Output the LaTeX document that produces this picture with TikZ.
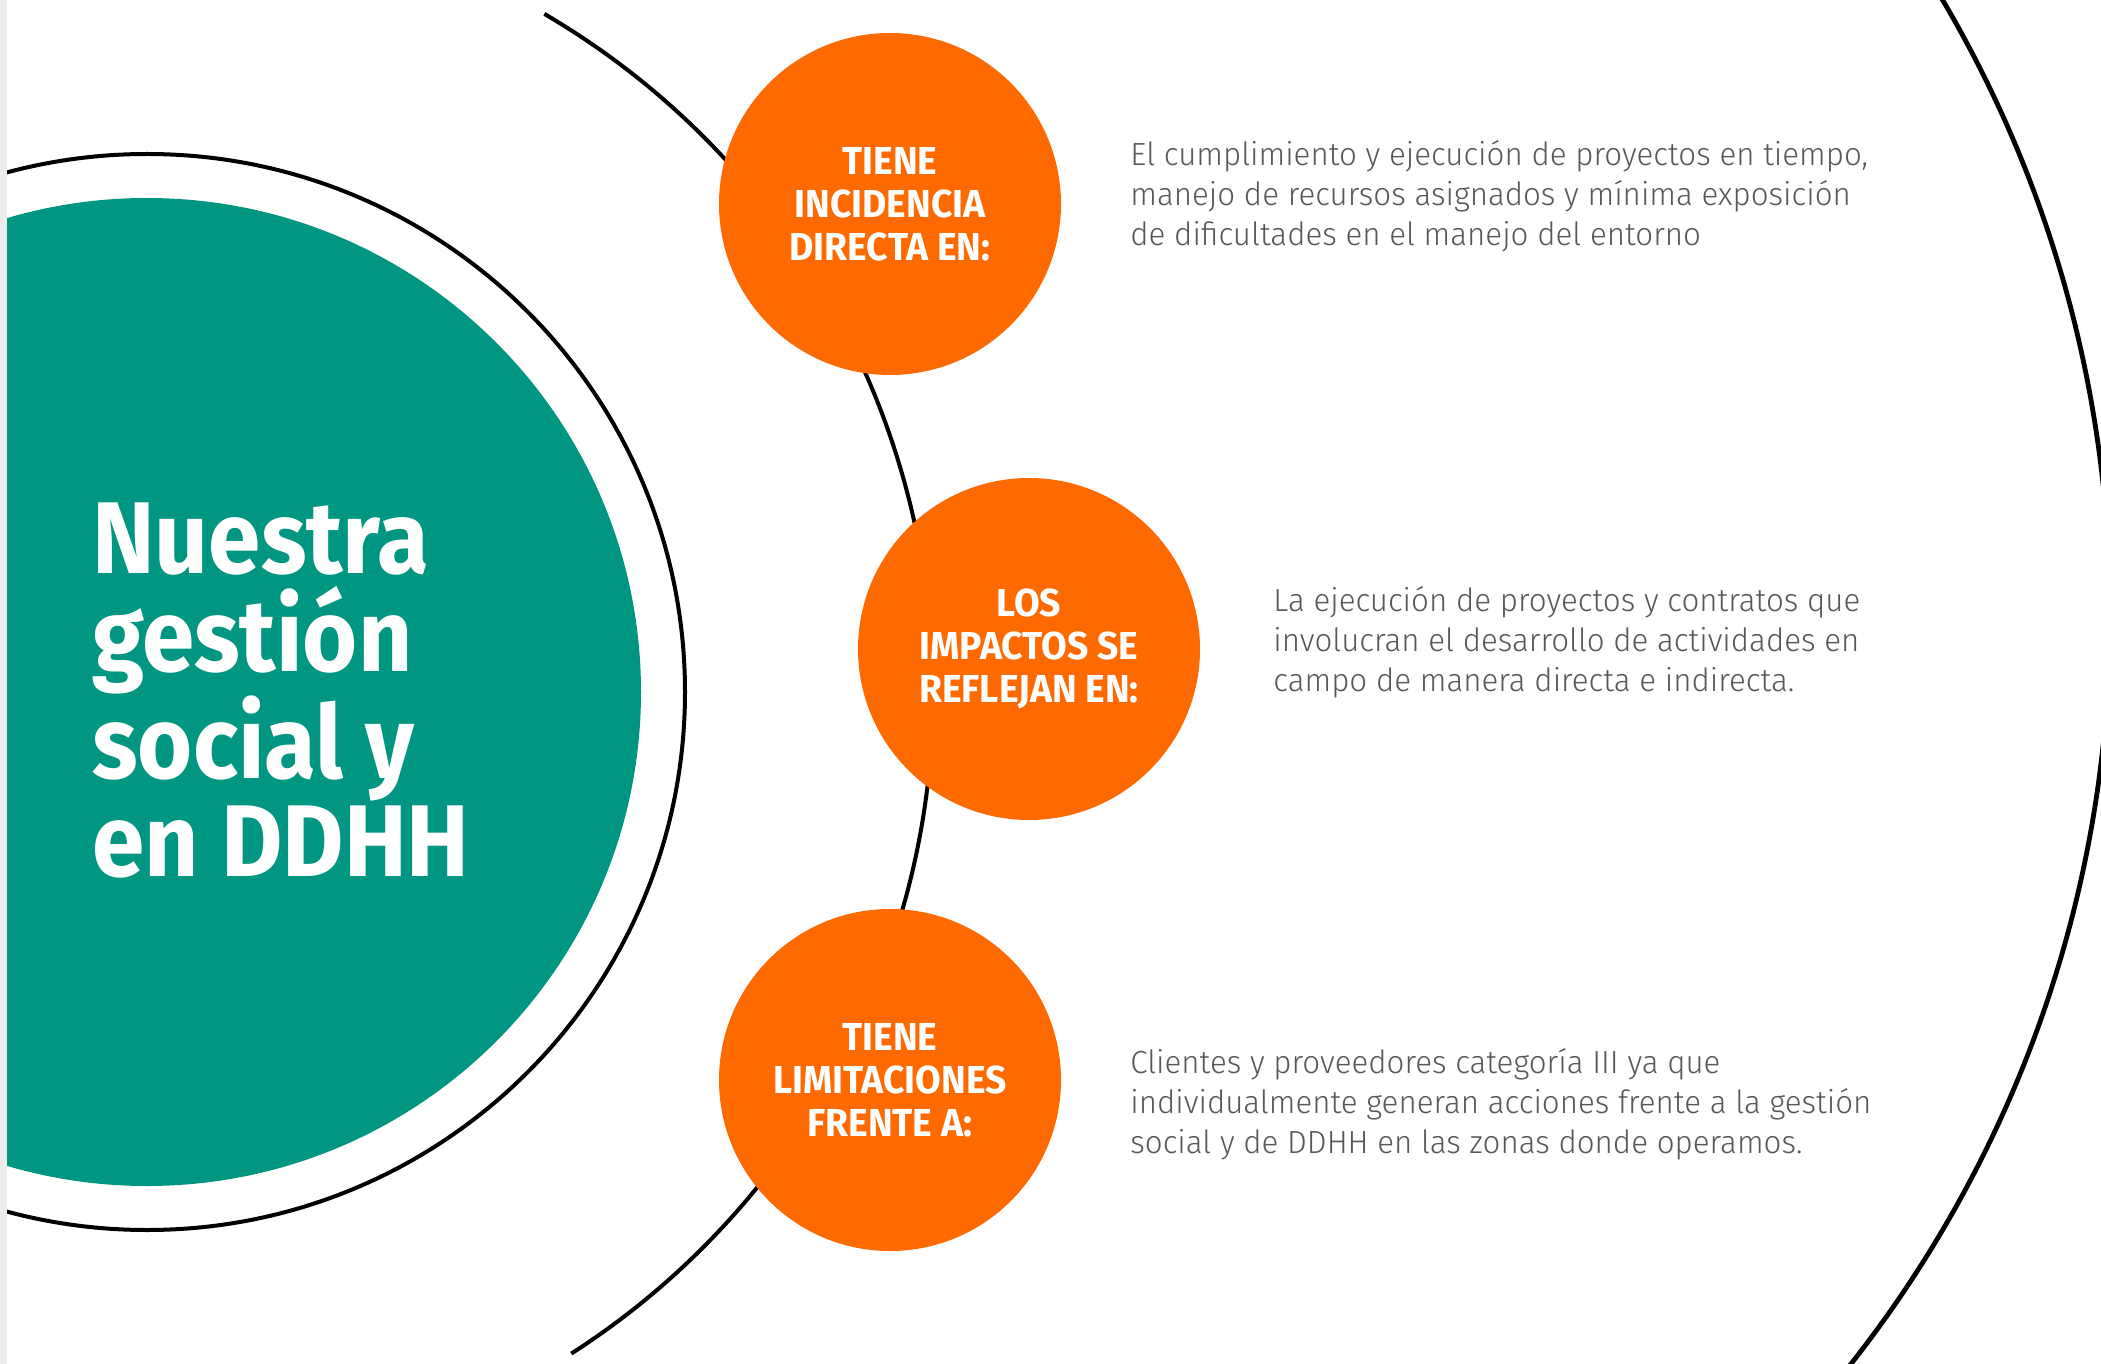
\documentclass[tikz,border=0pt]{standalone}
\usepackage{fontspec}
\setmainfont{Fira Sans}
\newfontfamily\lightfont{Fira Sans Light}[FakeStretch=0.978]
\newfontfamily\headfont{Fira Sans}[FakeStretch=0.925]
\newfontfamily\bubblefont{Fira Sans}[FakeStretch=0.955]
\definecolor{teal}{HTML}{009681}
\definecolor{orng}{HTML}{FF6A00}
\definecolor{bodygray}{HTML}{58585A}
\definecolor{strip}{HTML}{EBEBEB}
\tikzset{
  ring/.style={draw=black, line width=2pt},
  bubble/.style={circle, fill=orng, minimum size=171pt, inner sep=0pt,
    text=white, align=center, font=\bubblefont\bfseries\fontsize{19.5}{21.5}\selectfont},
  bodytext/.style={anchor=west, inner sep=0pt, align=left, text=bodygray,
    font=\lightfont\fontsize{16}{20}\selectfont}
}
\begin{document}
\begin{tikzpicture}[x=0.5pt, y=0.5pt]
  \useasboundingbox (0,0) rectangle (2101,-1364);
  \fill[white] (0,0) rectangle (2101,-1364);
  \clip (0,0) rectangle (2101,-1364);
  \coordinate (C) at (147,-692);
  \coordinate (R) at (898,-615);
  % outer sweeping arc on the right
  \draw[ring, line width=2.4pt] (R) circle[radius=1212];
  % central disc and its ring
  \fill[teal] (C) circle[radius=494];
  \draw[ring] (C) circle[radius=538];
  % arc carrying the three bubbles
  \draw[ring] (C) ++(59.63:786) arc[start angle=59.63, end angle=-57.33, radius=786];
  % title
  \node[anchor=north west, inner sep=0pt, align=left, text=white,
        font=\headfont\bfseries\fontsize{51}{49}\selectfont] (title) at (92,-502)
        {Nuestra\\gestión\\social y\\en DDHH};
  % bubbles
  \node[bubble] (c1) at (890,-204) {TIENE\\INCIDENCIA\\DIRECTA EN:};
  \node[bubble] (c2) at (1029,-649) {LOS\\IMPACTOS SE\\REFLEJAN EN:};
  \node[bubble] (c3) at (890,-1080) {TIENE\\LIMITACIONES\\FRENTE A:};
  % descriptions
  \node[bodytext] (t1) at (1130,-196)
    {El cumplimiento y ejecución de proyectos en tiempo,\\manejo de recursos asignados y mínima exposición\\de dificultades en el manejo del entorno};
  \node[bodytext] (t2) at (1273,-642)
    {La ejecución de proyectos y contratos que\\involucran el desarrollo de actividades en\\campo de manera directa e indirecta.};
  \node[bodytext] (t3) at (1130,-1104)
    {Clientes y proveedores categoría III ya que\\individualmente generan acciones frente a la gestión\\social y de DDHH en las zonas donde operamos.};
  % left edge strip
  \fill[strip] (0,0) rectangle (7,-1364);
\end{tikzpicture}
\end{document}
